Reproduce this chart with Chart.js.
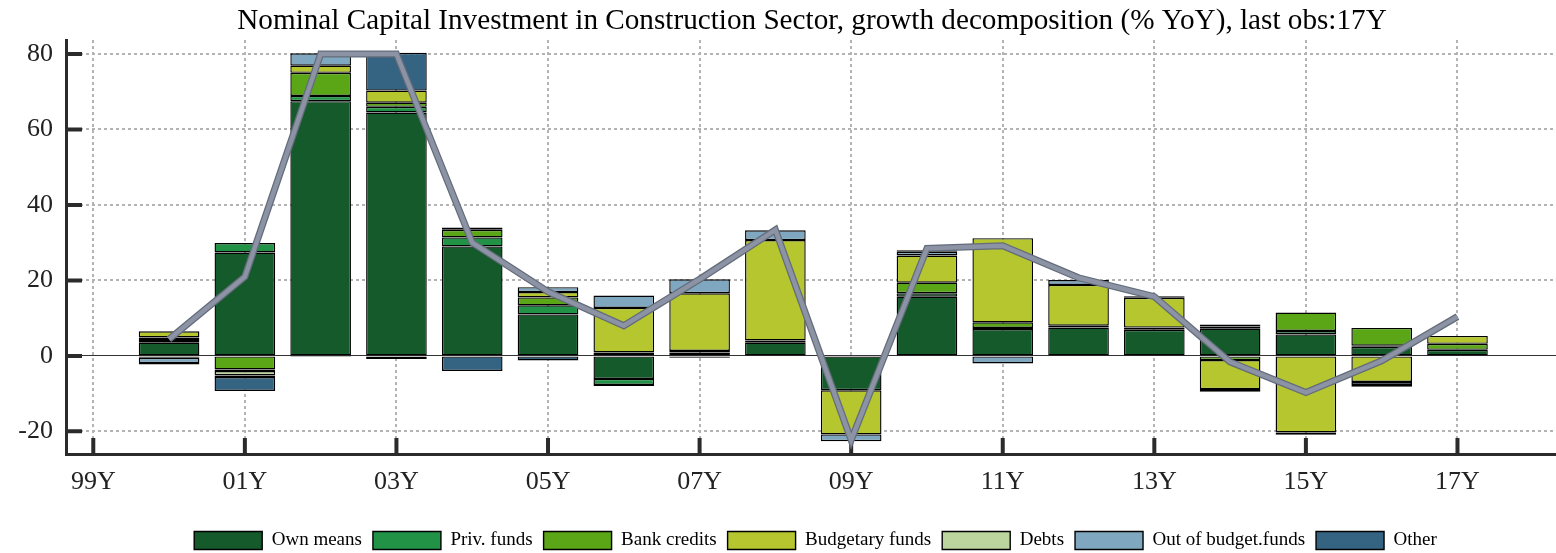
<!DOCTYPE html>
<html>
<head>
<meta charset="utf-8">
<script src="https://cdn.jsdelivr.net/npm/chart.js@4"></script>
<style>
  html, body { margin: 0; padding: 0; background: #fff; }
  #wrap { width: 1556px; height: 553px; }
</style>
</head>
<body>
<div id="wrap"><canvas id="myChart" width="1556" height="553"></canvas></div>
<script>
const years = [2000, 2001, 2002, 2003, 2004, 2005, 2006, 2007, 2008, 2009, 2010, 2011, 2012, 2013, 2014, 2015, 2016, 2017];
const ownMeans = [3.5, 27.4, 67.5, 64.5, 29.0, 11.0, -6.1, 0.9, 3.5, -9.1, 15.7, 7.1, 7.5, 6.9, 7.2, 5.7, 2.4, 1.6];
const privFunds = [0.7, 2.5, 1.4, 1.5, 2.4, 2.4, -1.6, -0.5, null, null, 0.9, 0.3, 0.5, 0.6, 0.6, 0.9, 0.3, null];
const bankCredits = [0.7, -3.6, 6.1, 1.1, 2.0, 2.1, 0.9, 0.4, 0.6, null, 2.8, 1.5, null, null, -1.1, 4.9, 4.7, 1.6];
const budgetFunds = [1.6, -0.4, 1.9, 3.2, 0.6, 1.4, 11.8, 15.3, 26.6, -11.7, 7.2, 22.3, 10.8, 7.9, -7.7, -20.3, -6.9, 2.1];
const debts = [-0.5, -1.2, -0.3, null, null, null, null, null, null, null, null, null, null, null, null, null, null, null];
const outOfBudget = [-1.4, -0.4, 3.3, -0.8, null, 1.3, 3.3, 3.7, 2.6, -1.8, 1.0, -2.0, 1.3, null, -0.7, -0.6, -0.8, null];
const other = [-0.4, -3.7, null, 10.0, -4.0, -1.2, -0.3, null, null, null, 0.4, null, null, 0.4, 0.5, null, -0.5, null];
const total = [4.4, 21.0, 80.0, 80.0, 30.0, 17.0, 8.0, 20.3, 33.4, -22.3, 28.5, 29.2, 20.7, 15.7, -1.6, -9.7, -1.3, 10.4];
const xTicks = [1999, 2001, 2003, 2005, 2007, 2009, 2011, 2013, 2015, 2017];
const yTicks = [-20, 0, 20, 40, 60, 80];

const serif = "'Liberation Serif', 'DejaVu Serif', serif";

function bar(label, data, color) {
  return {
    type: 'bar', label, data,
    backgroundColor: color, borderColor: '#000', borderWidth: 1.4,
    borderSkipped: false, barPercentage: 0.8, categoryPercentage: 1,
    stack: 'parts', order: 3
  };
}

// inward tick marks on both axes
const innerTicks = {
  id: 'innerTicks',
  beforeDatasetsDraw(chart) {
    const {ctx, chartArea, scales: {x, y}} = chart;
    ctx.save();
    ctx.strokeStyle = '#2b2b2b';
    ctx.lineWidth = 4;
    ctx.beginPath();
    y.ticks.forEach(t => {
      const py = y.getPixelForValue(t.value);
      ctx.moveTo(chartArea.left, py);
      ctx.lineTo(chartArea.left + 16, py);
    });
    x.ticks.forEach(t => {
      const px = x.getPixelForValue(t.value);
      ctx.moveTo(px, chartArea.bottom);
      ctx.lineTo(px, chartArea.bottom - 16);
    });
    ctx.stroke();
    ctx.restore();
  }
};

// title and legend sit a bit right of the canvas centre
const shiftBlocks = {
  id: 'shiftBlocks',
  afterLayout(chart) {
    chart.titleBlock.left += 68;
    chart.legend.left += 75;
  }
};

const ctx = document.getElementById('myChart');
new Chart(ctx, {
  data: {
    labels: years,
    datasets: [
      bar('Own means', ownMeans, '#155a2b'),
      bar('Priv. funds', privFunds, '#229346'),
      bar('Bank credits', bankCredits, '#5aa617'),
      bar('Budgetary funds', budgetFunds, '#b6c62e'),
      bar('Debts', debts, '#bcd59f'),
      bar('Out of budget.funds', outOfBudget, '#7fa8c0'),
      bar('Other', other, '#356483'),
      {
        type: 'line', label: 'total_outline', data: total, stack: 'l1', order: 1,
        borderColor: '#646c7b', borderWidth: 7, pointRadius: 0,
        borderJoinStyle: 'miter', tension: 0
      },
      {
        type: 'line', label: 'total', data: total, stack: 'l2', order: 0,
        borderColor: '#8b93a4', borderWidth: 4.5, pointRadius: 0,
        borderJoinStyle: 'miter', tension: 0
      }
    ]
  },
  options: {
    responsive: false,
    animation: false,
    layout: { padding: { top: 0, left: 0, right: 0, bottom: -7 } },
    plugins: {
      title: {
        display: true,
        text: 'Nominal Capital Investment in Construction Sector, growth decomposition (% YoY), last obs:17Y',
        color: '#000',
        font: { family: serif, size: 29.2, weight: 'normal' },
        padding: { top: 4, bottom: 1 }
      },
      legend: {
        position: 'bottom',
        labels: {
          color: '#000',
          font: { family: serif, size: 19 },
          boxWidth: 68, boxHeight: 18, padding: 11,
          filter: item => !item.text.startsWith('total')
        }
      },
      tooltip: { enabled: false }
    },
    scales: {
      x: {
        type: 'linear',
        stacked: true,
        offset: false,
        min: 1998.64, max: 2018.3,
        afterBuildTicks: s => { s.ticks = xTicks.map(v => ({ value: v })); },
        afterFit: s => { s.height = 66; },
        ticks: {
          color: '#222', padding: 13,
          font: { family: serif, size: 26 },
          callback: v => String(v).slice(2) + 'Y'
        },
        grid: { color: '#b3b3b3', lineWidth: 2, drawTicks: false, offset: false },
        border: { display: true, color: '#2b2b2b', width: 3, dash: [3, 3] }
      },
      y: {
        stacked: true,
        min: -26, max: 83.7,
        afterBuildTicks: s => { s.ticks = yTicks.map(v => ({ value: v })); },
        afterFit: s => { s.width = 66; },
        ticks: {
          color: '#222', padding: 13,
          font: { family: serif, size: 26 },
          callback: v => String(v)
        },
        grid: {
          drawTicks: false,
          color: c => (c.tick && c.tick.value === 0) ? '#333' : '#b3b3b3',
          lineWidth: c => (c.tick && c.tick.value === 0) ? 1 : 2
        },
        border: {
          display: true, color: '#2b2b2b', width: 3,
          dash: c => (c.tick && c.tick.value === 0) ? [] : [3, 3]
        }
      }
    }
  },
  plugins: [innerTicks, shiftBlocks]
});
</script>
</body>
</html>
